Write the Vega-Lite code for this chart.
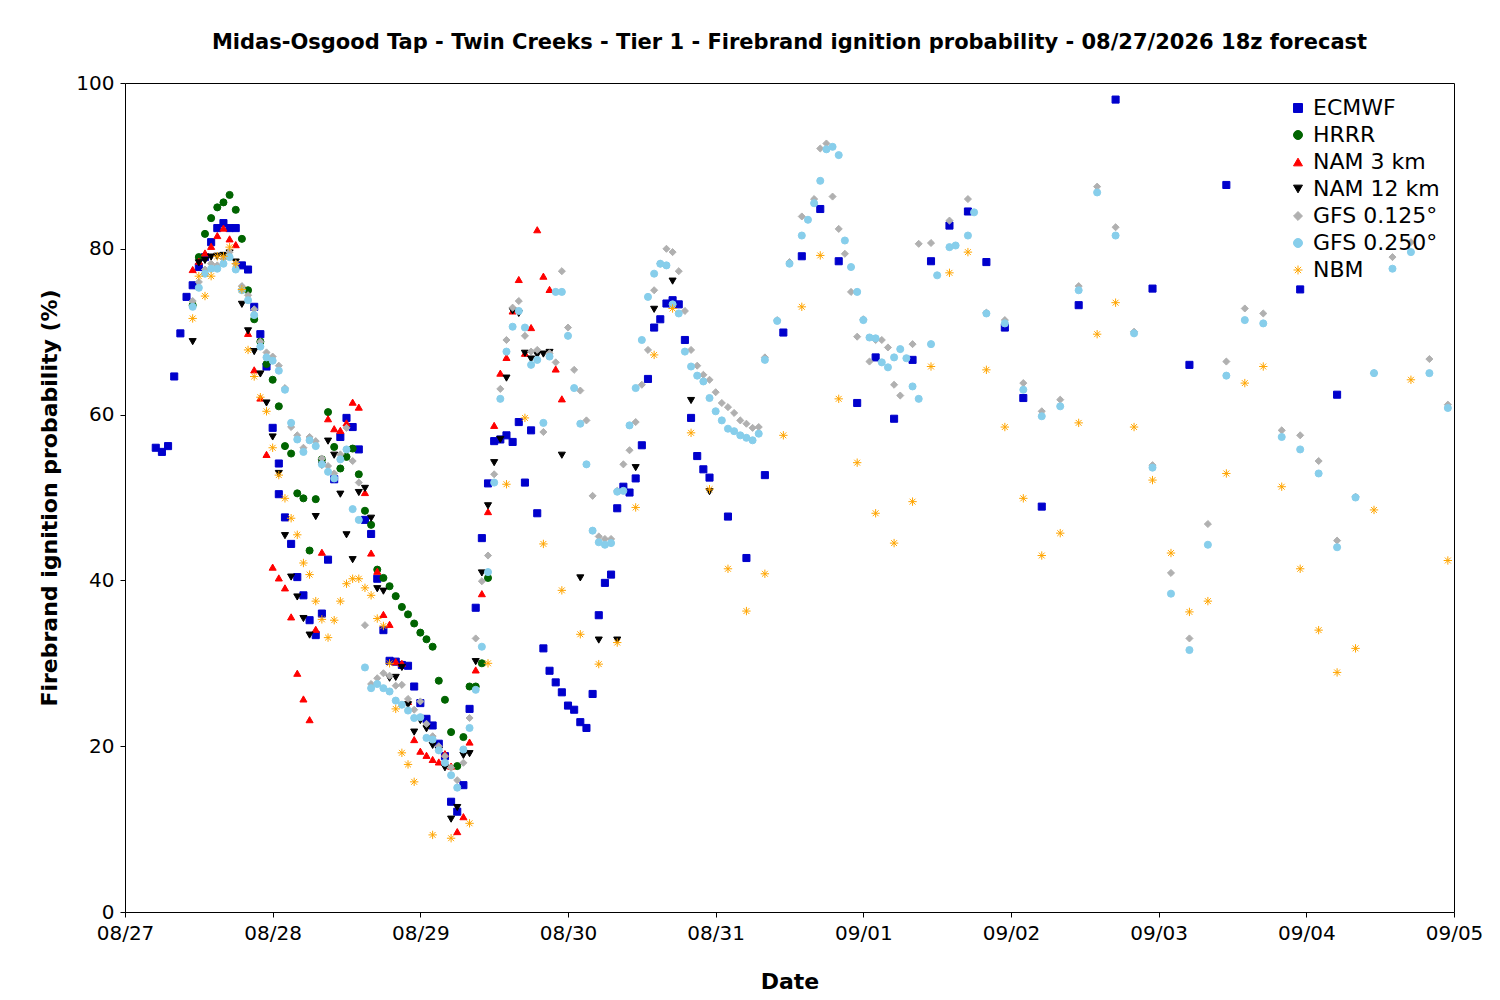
{
"$schema":"https://vega.github.io/schema/vega-lite/v6.json",
"autosize":{"type":"fit","contains":"padding"},
"width":1500,"height":1000,
"padding":{"left":38,"right":17,"top":32,"bottom":8},
"background":"white",
"title":{"text":"Midas-Osgood Tap - Twin Creeks - Tier 1 - Firebrand ignition probability - 08/27/2026 18z forecast","font":"DejaVu Sans","fontSize":21,"fontWeight":"bold","color":"black","offset":20,"anchor":"middle","dx":0},
"config":{"view":{"stroke":"black","strokeWidth":1},"font":"DejaVu Sans",
 "point":{"filled":true,"opacity":1,"size":50,"strokeWidth":1},
 "legend":{"title":null,"orient":"top-right","offset":14,"labelFontSize":22,"labelColor":"black","symbolSize":80,"rowPadding":5,"symbolStrokeWidth":1,"symbolOpacity":1,"labelFont":"DejaVu Sans"}},
"datasets":{
"E":[[5,56],[6,55.5],[7,56.2],[8,64.6],[9,69.8],[10,74.2],[11,75.6],[12,77.8],[13,79],[14,80.8],[15,82.5],[16,83.1],[17,82.5],[18,82.5],[19,78],[20,77.5],[21,73],[22,69.7],[23,65.8],[24,58.4],[25,54.1],[25,50.4],[26,47.6],[27,44.4],[28,40.4],[29,38.2],[30,35.2],[31,33.4],[32,36],[33,42.5],[34,52.2],[35,57.3],[36,59.6],[37,58.5],[38,55.8],[39,47.3],[40,45.6],[41,40.2],[42,34],[43,30.3],[44,30.2],[45,29.8],[46,29.7],[47,27.2],[48,25.2],[49,23.3],[50,22.5],[51,20.3],[52,18.8],[53,13.3],[54,12.1],[55,15.3],[56,24.5],[57,36.7],[58,45.1],[59,51.7],[60,56.8],[61,57],[62,57.5],[63,56.7],[64,59.1],[65,51.8],[66,58.1],[67,48.1],[68,31.8],[69,29.1],[70,27.7],[71,26.5],[72,24.9],[73,24.4],[74,22.9],[75,22.2],[76,26.3],[77,35.8],[78,39.7],[79,40.7],[80,48.7],[81,51.3],[82,50.6],[83,52.3],[84,56.3],[85,64.3],[86,70.5],[87,71.5],[88,73.4],[89,73.8],[90,73.3],[91,69],[92,59.6],[93,55],[94,53.4],[95,52.4],[98,47.7],[101,42.7],[104,52.7],[107,69.9],[110,79.1],[113,84.8],[116,78.5],[119,61.4],[122,66.9],[125,59.5],[128,66.6],[131,78.5],[134,82.8],[137,84.5],[140,78.4],[143,70.5],[146,62],[149,48.9],[155,73.2],[161,98],[167,75.2],[173,66],[179,87.7],[191,75.1],[197,62.4]],
"H":[[11,73.2],[12,79],[13,81.8],[14,83.7],[15,85],[16,85.6],[17,86.5],[18,84.7],[19,81.2],[20,75],[21,71.5],[22,68.8],[23,66.1],[24,64.2],[25,61],[26,56.2],[27,55.3],[28,50.5],[29,49.9],[30,43.6],[31,49.8],[32,54.6],[33,60.3],[34,56.1],[35,53.5],[36,54.9],[37,55.9],[38,52.8],[39,48.4],[40,46.7],[41,41.3],[42,40.3],[43,39.3],[44,38.1],[45,36.8],[46,35.9],[47,34.8],[48,33.7],[49,32.9],[50,32],[51,27.9],[52,25.6],[53,21.7],[54,17.6],[55,21.1],[56,27.2],[57,27.2],[58,30],[59,40.3]],
"N3":[[11,77.5],[12,78.5],[13,79.5],[14,80.3],[15,81.6],[16,82.5],[17,81.2],[18,80.5],[19,75.4],[20,69.8],[21,65.4],[22,62],[23,55.2],[24,41.6],[25,40.3],[26,39.1],[27,35.6],[28,28.8],[29,25.7],[30,23.2],[31,34.1],[32,43.4],[33,59.5],[34,58.3],[35,58.1],[36,59],[37,61.5],[38,60.9],[39,50.6],[40,43.3],[41,41.1],[42,35.9],[43,34.7],[44,30.2],[45,30],[46,25.4],[47,20.8],[48,19.4],[49,18.9],[50,18.4],[51,18.1],[52,19.1],[53,17.6],[54,9.7],[55,11.5],[56,20.5],[57,29.2],[58,38.4],[59,48.3],[60,58.7],[61,65],[62,66.9],[63,72.5],[64,76.3],[65,67.4],[66,70.5],[67,82.3],[68,76.7],[69,75.1],[70,65.5],[71,61.9]],
"N12":[[11,68.8],[12,78.3],[13,78.6],[14,79],[15,79.1],[16,79.2],[17,79.5],[18,78.4],[19,73.3],[20,70.1],[21,67.6],[22,64.9],[23,61.4],[24,57.3],[25,52.9],[26,45.4],[27,40.4],[28,38],[29,35.4],[30,33.4],[31,47.7],[32,53.9],[33,56.8],[34,55.1],[35,50.4],[36,45.5],[37,42.5],[38,50.6],[39,51.1],[40,47.5],[41,39],[42,38.7],[43,28.2],[44,28.3],[45,29.5],[46,25],[47,21.7],[48,23.1],[49,22.1],[50,20.1],[51,19.5],[52,17.4],[53,11.2],[54,12.6],[55,18.9],[56,19.1],[57,30.2],[58,40.9],[59,49],[60,54.2],[61,57],[62,64.4],[63,72.5],[64,72.2],[65,67.4],[66,66.7],[67,67.2],[68,67.3],[69,67.5],[71,55.1],[74,40.3],[77,32.8],[80,32.8],[83,53.6],[86,72.7],[89,76.1],[92,61.7],[95,50.7]],
"G1":[[11,73.7],[12,76],[13,77.5],[14,78.2],[15,78],[16,78.8],[17,79.6],[18,78.2],[19,75.5],[20,74.4],[21,72.7],[22,68.8],[23,67.5],[24,67],[25,65.9],[26,63.2],[27,58.5],[28,57.5],[29,56],[30,57.3],[31,56.8],[32,54.7],[33,53.8],[34,52.9],[35,55.2],[36,58.4],[37,54.4],[38,51.8],[39,34.6],[40,27.5],[41,28.2],[42,28.8],[43,28.5],[44,27.3],[45,27.4],[46,25.7],[47,24.4],[48,25.4],[49,22.7],[50,21.2],[51,20],[52,18.8],[53,17.4],[54,15.9],[55,18],[56,23.4],[57,33],[58,39.9],[59,43],[60,52.8],[61,63.1],[62,69],[63,72.9],[64,73.7],[65,69.5],[66,67.6],[67,67.8],[68,57.9],[69,67.4],[70,66.3],[71,77.3],[72,70.5],[73,65.4],[74,62.9],[75,59.3],[76,50.2],[77,45.3],[78,45],[79,45],[80,50.8],[81,54],[82,55.7],[83,59.1],[84,63.6],[85,67.8],[86,75],[87,78.2],[88,80],[89,79.6],[90,77.3],[91,72.5],[92,67.8],[93,65.9],[94,64.8],[95,64.2],[96,62.7],[97,61.4],[98,60.9],[99,60.2],[100,59.3],[101,58.9],[102,58.4],[103,58.5],[104,66.9],[106,71.4],[108,78.4],[110,83.9],[112,86],[113,92.1],[114,92.7],[115,86.3],[116,82.4],[117,79.4],[118,74.8],[119,69.4],[120,71.5],[121,66.4],[122,69],[123,69],[124,68.1],[125,63.6],[126,62.3],[128,68.5],[129,80.6],[131,80.7],[134,83.4],[137,86],[140,72.3],[143,71.4],[146,63.8],[149,60.4],[152,61.8],[155,75.5],[158,87.5],[161,82.6],[164,70],[167,53.9],[170,40.9],[173,33],[176,46.8],[179,66.4],[182,72.8],[185,72.2],[188,58.1],[191,57.5],[194,54.4],[197,44.8],[200,50.1],[203,65],[206,79],[209,80.8],[212,66.7],[215,61.2]],
"G2":[[11,73],[12,75.3],[13,77],[14,77.6],[15,77.6],[16,78.2],[17,79],[18,77.5],[19,75],[20,73.8],[21,72],[22,68.2],[23,66.9],[24,66.5],[25,65.3],[26,63],[27,59],[28,57],[29,55.5],[30,56.9],[31,56.2],[32,54],[33,53.1],[34,52.3],[35,54.6],[36,55.8],[37,48.6],[38,47.3],[39,29.5],[40,27],[41,27.5],[42,27],[43,26.6],[44,25.5],[45,25],[46,24.3],[47,23.4],[48,23.5],[49,21],[50,20.8],[51,19.5],[52,18],[53,16.5],[54,15],[55,19.6],[56,22.2],[57,26.8],[58,32],[59,41],[60,51.8],[61,61.9],[62,67.6],[63,70.6],[64,72.5],[65,70.5],[66,66],[67,66.6],[68,59],[69,67],[70,74.8],[71,74.8],[72,69.5],[73,63.2],[74,58.9],[75,54],[76,46],[77,44.6],[78,44.3],[79,44.5],[80,50.7],[81,50.8],[82,58.7],[83,63.2],[84,69],[85,74.2],[86,77],[87,78.2],[88,78],[89,73.3],[90,72.2],[91,67.6],[92,65.8],[93,64.7],[94,64],[95,62],[96,60.4],[97,59.3],[98,58.3],[99,58],[100,57.5],[101,57.2],[102,56.9],[103,57.7],[104,66.6],[106,71.3],[108,78.2],[110,81.6],[111,83.5],[112,85.5],[113,88.2],[114,92],[115,92.3],[116,91.3],[117,81],[118,77.8],[119,74.8],[120,71.4],[121,69.3],[122,69.2],[123,66.3],[124,65.7],[125,66.9],[126,67.9],[127,66.8],[128,63.4],[129,61.9],[131,68.5],[132,76.8],[134,80.2],[135,80.4],[137,81.6],[138,84.4],[140,72.2],[143,71],[146,63],[149,59.8],[152,61],[155,75],[158,86.8],[161,81.6],[164,69.8],[167,53.6],[170,38.4],[173,31.6],[176,44.3],[179,64.7],[182,71.4],[185,71],[188,57.3],[191,55.8],[194,52.9],[197,44],[200,50],[203,65],[206,77.6],[209,79.6],[212,65],[215,60.8]],
"NB":[[11,71.6],[12,76.7],[13,74.3],[14,76.7],[15,79.1],[16,79.1],[17,80.2],[18,78.2],[19,75.1],[20,67.8],[21,64.6],[22,62.1],[23,60.4],[24,56],[25,52.7],[26,49.9],[27,47.5],[28,45.5],[29,42.1],[30,40.7],[31,37.5],[32,35.3],[33,33.1],[34,35.2],[35,37.5],[36,39.6],[37,40.2],[38,40.2],[39,39.1],[40,38.2],[41,35.4],[42,34.5],[43,30],[44,24.5],[45,19.2],[46,17.8],[47,15.7],[50,9.3],[53,8.9],[56,10.7],[59,30],[62,51.6],[65,59.6],[68,44.4],[71,38.8],[74,33.5],[77,29.9],[80,32.5],[83,48.8],[86,67.2],[89,72.8],[92,57.8],[95,51],[98,41.4],[101,36.3],[104,40.8],[107,57.5],[110,73],[113,79.2],[116,61.9],[119,54.2],[122,48.1],[125,44.5],[128,49.5],[131,65.8],[134,77.1],[137,79.6],[140,65.4],[143,58.5],[146,49.9],[149,43],[152,45.7],[155,59],[158,69.7],[161,73.5],[164,58.5],[167,52.1],[170,43.3],[173,36.2],[176,37.5],[179,52.9],[182,63.8],[185,65.8],[188,51.3],[191,41.4],[194,34],[197,28.9],[200,31.8],[203,48.5],[209,64.2],[215,42.4]]
},
"layer":[
{"data":{"name":"E"},"transform":[{"calculate":"'ECMWF'","as":"m"},{"calculate":"datum[0]","as":"h"},{"calculate":"datum[1]","as":"v"}],"mark":{"type":"point","filled":true}},
{"data":{"name":"H"},"transform":[{"calculate":"'HRRR'","as":"m"},{"calculate":"datum[0]","as":"h"},{"calculate":"datum[1]","as":"v"}],"mark":{"type":"point","filled":true}},
{"data":{"name":"N3"},"transform":[{"calculate":"'NAM 3 km'","as":"m"},{"calculate":"datum[0]","as":"h"},{"calculate":"datum[1]","as":"v"}],"mark":{"type":"point","filled":true}},
{"data":{"name":"N12"},"transform":[{"calculate":"'NAM 12 km'","as":"m"},{"calculate":"datum[0]","as":"h"},{"calculate":"datum[1]","as":"v"}],"mark":{"type":"point","filled":true}},
{"data":{"name":"G1"},"transform":[{"calculate":"'GFS 0.125°'","as":"m"},{"calculate":"datum[0]","as":"h"},{"calculate":"datum[1]","as":"v"}],"mark":{"type":"point","filled":true}},
{"data":{"name":"G2"},"transform":[{"calculate":"'GFS 0.250°'","as":"m"},{"calculate":"datum[0]","as":"h"},{"calculate":"datum[1]","as":"v"}],"mark":{"type":"point","filled":true}},
{"data":{"name":"NB"},"transform":[{"calculate":"'NBM'","as":"m"},{"calculate":"datum[0]","as":"h"},{"calculate":"datum[1]","as":"v"}],"mark":{"type":"point","filled":true,"size":70}}
],
"encoding":{
"x":{"field":"h","type":"quantitative","scale":{"domain":[0,216],"nice":false,"zero":false},
 "axis":{"values":[0,24,48,72,96,120,144,168,192,216],"labelExpr":"['08/27','08/28','08/29','08/30','08/31','09/01','09/02','09/03','09/04','09/05'][round(datum.value/24)]","grid":false,"title":"Date","titleFontSize":22,"titleFontWeight":"bold","labelFontSize":20,"labelColor":"black","titleColor":"black","domain":false,"tickColor":"black","labelPadding":6,"labelFlush":false,"titlePadding":28}},
"y":{"field":"v","type":"quantitative","scale":{"domain":[0,100],"nice":false},
 "axis":{"values":[0,20,40,60,80,100],"grid":false,"title":"Firebrand ignition probability (%)","titleFontSize":22,"titleFontWeight":"bold","labelFontSize":20,"labelColor":"black","titleColor":"black","domain":false,"tickColor":"black","labelPadding":6,"titlePadding":14}},
"color":{"field":"m","type":"nominal","scale":{"domain":["ECMWF","HRRR","NAM 3 km","NAM 12 km","GFS 0.125°","GFS 0.250°","NBM"],"range":["#0000cc","#006400","#ff0000","#000000","#b0b0b0","#87ceeb","#ffa500"]}},
"stroke":{"field":"m","type":"nominal","scale":{"domain":["ECMWF","HRRR","NAM 3 km","NAM 12 km","GFS 0.125°","GFS 0.250°","NBM"],"range":["#0000cc","#006400","#ff0000","#000000","#b0b0b0","#87ceeb","#ffa500"]}},
"shape":{"field":"m","type":"nominal","scale":{"domain":["ECMWF","HRRR","NAM 3 km","NAM 12 km","GFS 0.125°","GFS 0.250°","NBM"],"range":["square","circle","triangle-up","triangle-down","diamond","circle","M-1,0L1,0M0,-1L0,1M-0.7,-0.7L0.7,0.7M-0.7,0.7L0.7,-0.7"]}}
}
}
